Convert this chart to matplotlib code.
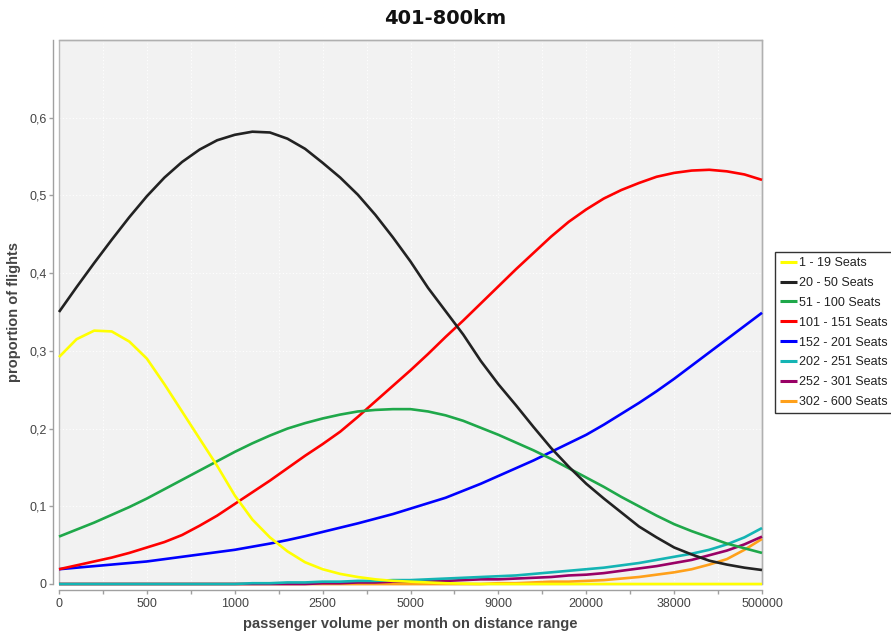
import numpy as np
import matplotlib
matplotlib.use("Agg")
import matplotlib.pyplot as plt
from matplotlib.patches import Rectangle

plt.rcParams['font.family'] = ['Liberation Sans', 'DejaVu Sans']

# passenger-volume categories on the x axis (evenly spaced, 5 samples per category step)
volume_labels = ["0", "500", "1000", "2500", "5000", "9000", "20000", "38000", "500000"]
n_steps = 5

seat_classes = ["1 - 19 Seats", "20 - 50 Seats", "51 - 100 Seats", "101 - 151 Seats",
                "152 - 201 Seats", "202 - 251 Seats", "252 - 301 Seats", "302 - 600 Seats"]
colors = ["#ffff00", "#222222", "#1fa84a", "#ff0000", "#0000ff", "#14b4b4", "#990066", "#ffa01a"]

seats_1_19 = [0.292, 0.315, 0.326, 0.325, 0.312, 0.290, 0.257, 0.222, 0.187, 0.152,
              0.114, 0.083, 0.060, 0.042, 0.028, 0.019, 0.013, 0.009, 0.006, 0.004,
              0.003, 0.002, 0.001, 0.0005, 0.0, 0.0, 0.0, 0.0, 0.0, 0.0,
              0.0, 0.0, 0.0, 0.0, 0.0, 0.0, 0.0, 0.0, 0.0, 0.0, 0.0]
seats_20_50 = [0.350, 0.382, 0.413, 0.443, 0.472, 0.499, 0.523, 0.543, 0.559, 0.571,
               0.578, 0.582, 0.581, 0.573, 0.560, 0.542, 0.523, 0.501, 0.475, 0.446,
               0.415, 0.381, 0.351, 0.321, 0.287, 0.257, 0.230, 0.202, 0.175, 0.151,
               0.129, 0.110, 0.092, 0.074, 0.060, 0.047, 0.038, 0.030, 0.025, 0.021, 0.018]
seats_51_100 = [0.061, 0.070, 0.079, 0.089, 0.099, 0.110, 0.122, 0.134, 0.146, 0.158,
                0.170, 0.181, 0.191, 0.200, 0.207, 0.213, 0.218, 0.222, 0.224, 0.225,
                0.225, 0.222, 0.217, 0.210, 0.201, 0.192, 0.182, 0.172, 0.161, 0.149,
                0.137, 0.125, 0.112, 0.100, 0.088, 0.077, 0.068, 0.060, 0.052, 0.046, 0.040]
seats_101_151 = [0.019, 0.024, 0.029, 0.034, 0.040, 0.047, 0.054, 0.063, 0.075, 0.088,
                 0.103, 0.118, 0.133, 0.149, 0.165, 0.180, 0.196, 0.215, 0.235, 0.255,
                 0.275, 0.296, 0.318, 0.339, 0.361, 0.383, 0.405, 0.426, 0.447, 0.466,
                 0.482, 0.496, 0.507, 0.516, 0.524, 0.529, 0.532, 0.533, 0.531, 0.527, 0.520]
seats_152_201 = [0.019, 0.021, 0.023, 0.025, 0.027, 0.029, 0.032, 0.035, 0.038, 0.041,
                 0.044, 0.048, 0.052, 0.0565, 0.0615, 0.067, 0.0725, 0.078, 0.084, 0.090,
                 0.097, 0.104, 0.111, 0.120, 0.129, 0.139, 0.149, 0.159, 0.170, 0.181,
                 0.192, 0.205, 0.219, 0.233, 0.248, 0.264, 0.281, 0.298, 0.315, 0.332, 0.349]
seats_202_251 = [0.0, 0.0, 0.0, 0.0, 0.0, 0.0, 0.0, 0.0, 0.0, 0.0,
                 0.0, 0.001, 0.001, 0.002, 0.002, 0.003, 0.003, 0.004, 0.004, 0.005,
                 0.005, 0.006, 0.007, 0.008, 0.009, 0.010, 0.011, 0.013, 0.015, 0.017,
                 0.019, 0.021, 0.024, 0.027, 0.031, 0.035, 0.039, 0.044, 0.051, 0.060, 0.072]
seats_252_301 = [0.0, 0.0, 0.0, 0.0, 0.0, 0.0, 0.0, 0.0, 0.0, 0.0,
                 0.0, 0.0, 0.0, 0.0, 0.0, 0.001, 0.001, 0.002, 0.002, 0.003,
                 0.003, 0.004, 0.004, 0.005, 0.006, 0.006, 0.007, 0.008, 0.009, 0.011,
                 0.012, 0.014, 0.017, 0.020, 0.023, 0.027, 0.031, 0.037, 0.043, 0.051, 0.061]
seats_302_600 = [0.0, 0.0, 0.0, 0.0, 0.0, 0.0, 0.0, 0.0, 0.0, 0.0,
                 0.0, 0.0, 0.0, 0.0, 0.0, 0.0, 0.0, 0.0, 0.0, 0.0,
                 0.0, 0.0, 0.0, 0.0, 0.0, 0.001, 0.001, 0.002, 0.003, 0.003,
                 0.004, 0.005, 0.007, 0.009, 0.012, 0.015, 0.019, 0.025, 0.032, 0.044, 0.058]

series = [seats_1_19, seats_20_50, seats_51_100, seats_101_151,
          seats_152_201, seats_202_251, seats_252_301, seats_302_600]
zorders = [3.6, 3.5, 3.4, 3.3, 3.2, 3.1, 3.0, 2.9]

n_points = len(seats_1_19)
x = np.arange(n_points) / n_steps

fig = plt.figure(figsize=(8.91, 6.32), dpi=100)
ax = fig.add_axes([59 / 891, 1 - 584 / 632, (762 - 59) / 891, (584 - 40) / 632])
ax.set_facecolor("#f2f2f2")

for vals, name, col, z in zip(series, seat_classes, colors, zorders):
    ax.plot(x, vals, color=col, lw=1.9, label=name, zorder=z,
            solid_capstyle="butt", clip_on=False)

ax.set_xlim(0, len(volume_labels) - 1)
ax.set_ylim(0, 0.7)

ax.set_xticks(np.arange(len(volume_labels)))
ax.set_xticklabels(volume_labels)
ax.set_xticks(np.arange(len(volume_labels) - 1) + 0.5, minor=True)
yt = np.arange(0, 0.61, 0.1)
ax.set_yticks(yt)
ax.set_yticklabels(["0"] + [f"{v:.1f}".replace(".", ",") for v in yt[1:]])

ax.grid(True, which="both", color="white", lw=0.8, ls=(0, (1, 2)))
ax.set_axisbelow(True)

axis_col = "#a0a0a0"
for side in ["left", "bottom"]:
    ax.spines[side].set_position(("outward", 4))
    ax.spines[side].set_color(axis_col)
    ax.spines[side].set_linewidth(1.0)
for side in ["top", "right"]:
    ax.spines[side].set_color("#b0b0b0")
    ax.spines[side].set_linewidth(1.0)
# plot-area outline, kept beneath the data lines
ax.add_patch(Rectangle((0, 0), 1, 1, transform=ax.transAxes, fill=False,
                       edgecolor="#b8b8b8", lw=1.0, clip_on=False, zorder=1.5))

ax.tick_params(axis="both", which="both", direction="out", color=axis_col,
               labelcolor="#444444", labelsize=9, length=3, width=1)
ax.tick_params(axis="x", pad=3)
ax.tick_params(axis="y", pad=2)

ax.set_xlabel("passenger volume per month on distance range", fontsize=10.5,
              fontweight="bold", color="#444444", labelpad=5)
ax.set_ylabel("proportion of flights", fontsize=10.5, fontweight="bold",
              color="#444444", labelpad=6)

fig.text(0.5, 1 - 18 / 632, "401-800km", ha="center", va="center",
         fontsize=14, fontweight="bold", family=["DejaVu Sans"], color="#111111")

leg = fig.legend(loc="upper left", bbox_to_anchor=(775 / 891, 1 - 252 / 632),
                 fontsize=9, frameon=True, fancybox=False, edgecolor="black",
                 handlelength=1.35, handletextpad=0.2, borderpad=0.4,
                 labelspacing=0.63, borderaxespad=0)
leg.get_frame().set_linewidth(1.0)
for line in leg.get_lines():
    line.set_linewidth(2.2)
for t in leg.get_texts():
    t.set_color("#222222")

fig.savefig("out.png", dpi=100)
